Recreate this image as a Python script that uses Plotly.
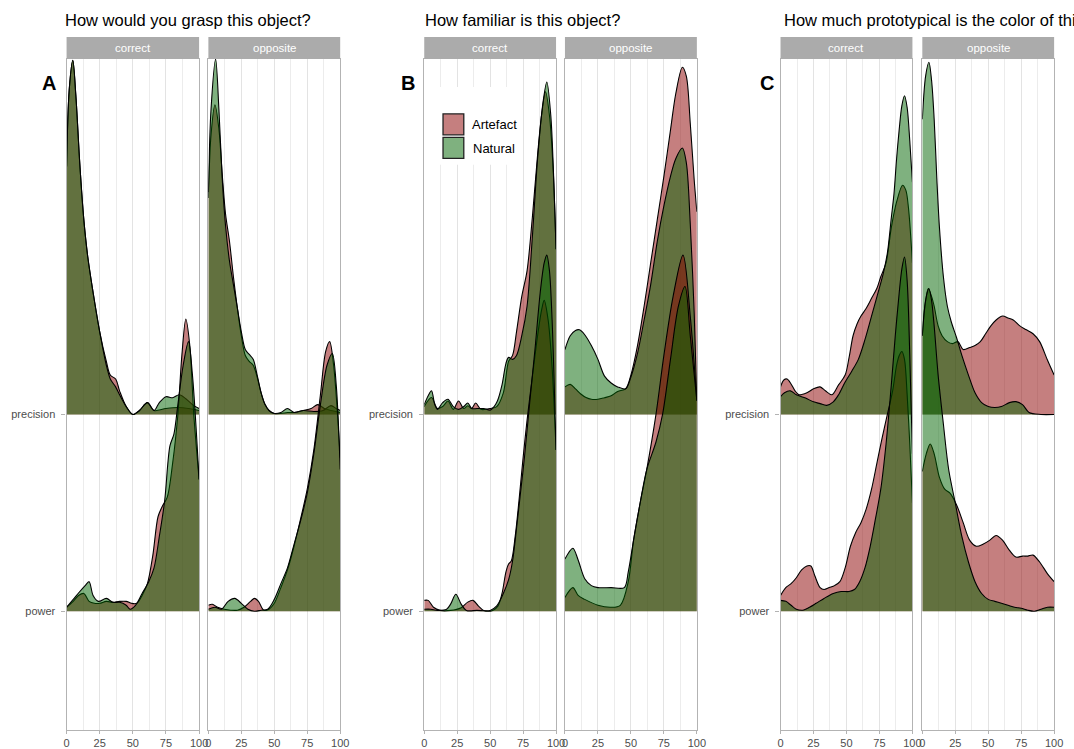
import plotly.graph_objects as go

W, H = 1074, 749

# ---------------- data: ridge heights (in row units) ----------------
# Panel A  (How would you grasp this object?)
A_COR_PREC_ART_X = [0, 2, 4.7, 7, 10, 13, 16, 20, 25, 30, 33, 37, 40, 45, 50, 55, 61, 66, 75, 85, 92, 100]
A_COR_PREC_ART_H = [1.26, 1.65, 1.80, 1.62, 1.27, 0.99, 0.80, 0.62, 0.42, 0.27, 0.20, 0.18, 0.12, 0.04, 0.0, 0.02, 0.06, 0.02, 0.03, 0.035, 0.03, 0.02]
A_COR_PREC_NAT_X = [0, 2, 4.7, 7, 10, 13, 16, 20, 25, 30, 33, 37, 40, 45, 50, 55, 61, 66, 70, 75, 80, 85, 90, 95, 100]
A_COR_PREC_NAT_H = [1.26, 1.65, 1.80, 1.62, 1.27, 0.99, 0.80, 0.62, 0.42, 0.25, 0.18, 0.14, 0.10, 0.04, 0.0, 0.02, 0.06, 0.02, 0.06, 0.09, 0.085, 0.10, 0.08, 0.05, 0.03]
A_COR_POW_ART_X = [0, 5, 9, 13, 17, 21, 25, 30, 35, 40, 45, 49, 53, 57, 61, 65, 69, 72, 76, 80, 84, 87, 90, 93, 96, 100]
A_COR_POW_ART_H = [0.02, 0.05, 0.08, 0.09, 0.05, 0.04, 0.04, 0.05, 0.045, 0.05, 0.05, 0.04, 0.04, 0.08, 0.14, 0.28, 0.48, 0.53, 0.58, 0.75, 1.0, 1.3, 1.485, 1.35, 1.0, 0.67]
A_COR_POW_NAT_X = [0, 5, 10, 14, 17, 20, 24, 30, 35, 40, 45, 48, 52, 57, 62, 66, 70, 74, 78, 81, 84, 88, 92, 95, 100]
A_COR_POW_NAT_H = [0.02, 0.06, 0.1, 0.13, 0.15, 0.08, 0.05, 0.065, 0.045, 0.045, 0.03, 0.01, 0.03, 0.09, 0.15, 0.22, 0.38, 0.56, 0.84, 0.9, 1.05, 1.25, 1.37, 1.2, 0.67]

A_OPP_PREC_ART_X = [0, 2, 5, 8, 10.5, 13, 16, 19, 22, 25, 28, 31, 34, 37, 40, 43, 46, 50, 55, 60, 65, 72, 78, 83, 88, 93, 100]
A_OPP_PREC_ART_H = [1.10, 1.42, 1.574, 1.45, 1.22, 1.02, 0.88, 0.70, 0.54, 0.40, 0.30, 0.27, 0.25, 0.19, 0.11, 0.05, 0.02, 0.005, 0.005, 0.01, 0.01, 0.02, 0.03, 0.05, 0.03, 0.02, 0.01]
A_OPP_PREC_NAT_X = [0, 2, 5.5, 8, 10.5, 13, 16, 19, 22, 25, 28, 31, 34, 37, 40, 43, 46, 50, 55, 60, 65, 72, 80, 87, 93, 97, 100]
A_OPP_PREC_NAT_H = [1.13, 1.55, 1.806, 1.55, 1.2, 0.96, 0.78, 0.66, 0.54, 0.42, 0.33, 0.305, 0.28, 0.20, 0.11, 0.05, 0.02, 0.005, 0.01, 0.03, 0.01, 0.02, 0.015, 0.02, 0.045, 0.03, 0.02]
A_OPP_POW_ART_X = [0, 3, 7, 12, 17, 22, 27, 32, 35, 38, 42, 46, 50, 55, 60, 65, 70, 75, 80, 85, 89, 92, 95, 100]
A_OPP_POW_ART_H = [0.03, 0.035, 0.02, 0.01, 0.005, 0.005, 0.02, 0.05, 0.065, 0.05, 0.005, 0.01, 0.04, 0.12, 0.21, 0.33, 0.47, 0.62, 0.82, 1.1, 1.32, 1.37, 1.25, 0.78]
A_OPP_POW_NAT_X = [0, 5, 10, 15, 20, 25, 30, 35, 40, 45, 50, 55, 60, 65, 70, 75, 80, 85, 90, 94, 97, 100]
A_OPP_POW_NAT_H = [0.01, 0.02, 0.01, 0.05, 0.065, 0.04, 0.01, 0.0, 0.005, 0.01, 0.06, 0.14, 0.22, 0.34, 0.46, 0.6, 0.8, 1.05, 1.25, 1.31, 1.15, 0.72]

# Panel B  (How familiar is this object?)
B_COR_PREC_ART_X = [0, 5.5, 10, 14, 18, 22, 26, 30, 33, 36, 39, 43, 50, 55, 60, 64, 67, 70, 74, 78, 82, 86, 89, 92, 95, 98, 100]
B_COR_PREC_ART_H = [0.04, 0.086, 0.03, 0.04, 0.068, 0.026, 0.068, 0.03, 0.044, 0.03, 0.058, 0.026, 0.03, 0.04, 0.11, 0.27, 0.30, 0.42, 0.60, 0.73, 1.0, 1.32, 1.52, 1.64, 1.52, 1.22, 0.84]
B_COR_PREC_NAT_X = [0, 3, 5.5, 8, 10, 14, 18, 22, 26, 30, 33, 36, 40, 45, 50, 53, 55.5, 59, 62, 64, 67, 70, 74, 78, 82, 86, 90, 93, 96, 98, 100]
B_COR_PREC_NAT_H = [0.05, 0.095, 0.12, 0.05, 0.026, 0.06, 0.077, 0.04, 0.026, 0.04, 0.058, 0.03, 0.03, 0.03, 0.022, 0.04, 0.068, 0.15, 0.26, 0.29, 0.28, 0.30, 0.40, 0.55, 0.90, 1.30, 1.58, 1.69, 1.52, 1.24, 0.84]
B_COR_POW_ART_X = [0, 3, 7, 12, 20, 28, 33, 37, 41, 45, 52, 56, 59, 62, 64, 66, 69, 72, 75, 78, 82, 86, 89, 91, 94, 97, 100]
B_COR_POW_ART_H = [0.055, 0.055, 0.02, 0.004, 0.004, 0.018, 0.046, 0.055, 0.027, 0.004, 0.004, 0.027, 0.09, 0.2, 0.24, 0.255, 0.38, 0.57, 0.78, 0.97, 1.19, 1.40, 1.53, 1.58, 1.48, 1.24, 0.82]
B_COR_POW_NAT_X = [0, 5, 10, 17, 20, 24, 28, 32, 40, 50, 55, 60, 64, 67, 70, 73, 76, 80, 84, 88, 91, 93, 95, 97, 100]
B_COR_POW_NAT_H = [0.01, 0.01, 0.004, 0.01, 0.036, 0.086, 0.036, 0.004, 0.004, 0.004, 0.027, 0.09, 0.16, 0.255, 0.42, 0.6, 0.78, 1.06, 1.33, 1.62, 1.77, 1.81, 1.73, 1.48, 0.82]

B_OPP_PREC_ART_X = [0, 4, 8, 12, 16, 20, 25, 30, 35, 40, 46, 50, 55, 60, 65, 70, 75, 80, 84, 89, 92, 95, 98, 100]
B_OPP_PREC_ART_H = [0.14, 0.153, 0.13, 0.104, 0.086, 0.077, 0.077, 0.085, 0.095, 0.117, 0.13, 0.2, 0.35, 0.55, 0.77, 0.99, 1.21, 1.445, 1.63, 1.765, 1.72, 1.48, 1.19, 1.03]
B_OPP_PREC_NAT_X = [0, 4, 8, 11, 15, 20, 25, 30, 35, 40, 46, 50, 55, 60, 65, 70, 75, 80, 84, 89, 92, 95, 98, 100]
B_OPP_PREC_NAT_H = [0.33, 0.40, 0.427, 0.43, 0.405, 0.35, 0.28, 0.195, 0.16, 0.14, 0.13, 0.19, 0.31, 0.48, 0.66, 0.88, 1.06, 1.21, 1.30, 1.354, 1.28, 0.97, 0.51, 0.07]
B_OPP_POW_ART_X = [0, 6, 10, 15, 25, 35, 42, 48, 52, 57, 62, 69, 75, 82, 89.5, 95, 100]
B_OPP_POW_ART_H = [0.07, 0.12, 0.08, 0.06, 0.03, 0.02, 0.03, 0.15, 0.36, 0.55, 0.72, 1.0, 1.3, 1.6, 1.81, 1.5, 1.07]
B_OPP_POW_NAT_X = [0, 6, 10, 15, 20, 25, 35, 45, 48, 52, 57, 62, 69, 74, 80, 86, 91, 95, 100]
B_OPP_POW_NAT_H = [0.265, 0.32, 0.26, 0.165, 0.13, 0.12, 0.12, 0.12, 0.2, 0.36, 0.55, 0.72, 0.86, 1.0, 1.28, 1.55, 1.65, 1.4, 1.07]

# Panel C  (How much prototypical is the color of this object?)
C_COR_PREC_ART_X = [0, 2.5, 5, 8, 11, 14, 20, 25, 30, 34, 39, 44, 49, 52, 55, 58, 61, 65, 69, 73, 76, 80, 84, 88, 92.5, 95, 97, 100]
C_COR_PREC_ART_H = [0.14, 0.175, 0.18, 0.155, 0.12, 0.10, 0.11, 0.13, 0.14, 0.12, 0.10, 0.15, 0.2, 0.29, 0.40, 0.46, 0.50, 0.54, 0.59, 0.64, 0.70, 0.77, 0.95, 1.08, 1.165, 1.14, 1.05, 0.77]
C_COR_PREC_NAT_X = [0, 3, 7.5, 12, 19, 25, 30, 35, 40, 44, 49, 54, 59, 64, 69, 74, 78, 81, 84, 86, 88, 90, 92, 94, 96, 98, 100]
C_COR_PREC_NAT_H = [0.09, 0.11, 0.12, 0.10, 0.083, 0.064, 0.055, 0.046, 0.064, 0.10, 0.165, 0.22, 0.28, 0.38, 0.50, 0.62, 0.72, 0.82, 1.0, 1.12, 1.3, 1.45, 1.57, 1.62, 1.56, 1.39, 1.18]
C_COR_POW_ART_X = [0, 4, 8, 12, 16, 20, 23, 26, 30, 33, 37, 41, 45, 49, 53, 57, 61, 65, 69, 73, 77, 81, 85, 88, 90, 92, 94, 96, 98, 100]
C_COR_POW_ART_H = [0.08, 0.12, 0.14, 0.17, 0.21, 0.23, 0.23, 0.18, 0.12, 0.11, 0.12, 0.13, 0.15, 0.22, 0.33, 0.40, 0.45, 0.52, 0.62, 0.75, 0.88, 1.0, 1.12, 1.25, 1.3, 1.32, 1.28, 1.1, 0.85, 0.55]
C_COR_POW_NAT_X = [0, 4, 8, 12, 17, 22, 27, 33, 40, 46, 52, 56, 60, 64, 68, 72, 76, 80, 84, 87, 90, 92, 94, 96, 98, 100]
C_COR_POW_NAT_H = [0.055, 0.05, 0.03, 0.01, 0.005, 0.02, 0.04, 0.065, 0.09, 0.1, 0.1, 0.11, 0.15, 0.22, 0.33, 0.47, 0.62, 0.85, 1.15, 1.4, 1.62, 1.74, 1.80, 1.68, 1.3, 0.8]

C_OPP_PREC_ART_X = [0, 2, 4.5, 7, 9, 12, 15, 19, 23, 27, 31, 36, 40, 44, 48, 52, 56, 61, 65, 69, 74, 79, 84, 89, 95, 100]
C_OPP_PREC_ART_H = [0.40, 0.55, 0.64, 0.60, 0.55, 0.45, 0.40, 0.37, 0.36, 0.37, 0.33, 0.34, 0.35, 0.37, 0.41, 0.45, 0.48, 0.50, 0.49, 0.48, 0.45, 0.43, 0.41, 0.37, 0.275, 0.2]
C_OPP_PREC_NAT_X = [0, 2.5, 5, 7, 9, 11, 13, 16, 19, 22, 26, 30, 35, 40, 45, 50, 55, 60, 66, 71, 76, 81, 90, 100]
C_OPP_PREC_NAT_H = [1.50, 1.72, 1.79, 1.70, 1.50, 1.20, 0.95, 0.70, 0.55, 0.47, 0.39, 0.30, 0.20, 0.11, 0.06, 0.04, 0.035, 0.04, 0.06, 0.065, 0.05, 0.01, 0.0, 0.0]
C_OPP_POW_ART_X = [0, 3, 6, 9, 13, 17, 21, 26, 31, 36, 41, 46, 51, 56, 61, 66, 71, 76, 80, 84, 89, 95, 100]
C_OPP_POW_ART_H = [0.71, 0.80, 0.85, 0.80, 0.68, 0.62, 0.60, 0.54, 0.45, 0.36, 0.33, 0.34, 0.36, 0.385, 0.36, 0.31, 0.275, 0.28, 0.28, 0.285, 0.25, 0.19, 0.15]
C_OPP_POW_NAT_X = [0, 2.5, 5, 7, 9, 12, 16, 20, 25, 30, 35, 40, 45, 50, 55, 60, 65, 70, 75, 80, 85, 90, 95, 100]
C_OPP_POW_NAT_H = [1.40, 1.58, 1.64, 1.58, 1.45, 1.2, 0.95, 0.72, 0.55, 0.38, 0.25, 0.15, 0.09, 0.06, 0.05, 0.04, 0.03, 0.02, 0.015, 0.005, 0.0, 0.01, 0.02, 0.02]

ROW_LABELS = ["power", "precision"]
ROW_POS = [1, 2]
X_TICKS = [0, 25, 50, 75, 100]
FACETS = ["correct", "opposite"]
GROUPS = ["Artefact", "Natural"]
TITLES = ["How would you grasp this object?", "How familiar is this object?",
          "How much prototypical is the color of this object?"]
LETTERS = ["A", "B", "C"]

ART_FILL = "rgba(139,0,0,0.5)"
NAT_FILL = "rgba(0,100,0,0.5)"
FONT = "Liberation Sans, Arial, Helvetica, sans-serif"

# facet pixel boundaries (x) : (left, right)
FACET_PX = [(64.3, 198.3), (207.7, 341.0),
            (426.0, 559.3), (568.3, 701.7),
            (786.3, 919.7), (929.7, 1063.0)]
LETTER_PX = [47, 410, 773]
TITLE_PX = [61, 425, 788]
PLOT_TOP, PLOT_BOT = 59.0, 731.0
STRIP_TOP = 37.0
Y_RANGE = [0.396, 3.807]

curves = {
    0: [(A_COR_PREC_ART_X, A_COR_PREC_ART_H, A_COR_PREC_NAT_X, A_COR_PREC_NAT_H),
        (A_COR_POW_ART_X, A_COR_POW_ART_H, A_COR_POW_NAT_X, A_COR_POW_NAT_H)],
    1: [(A_OPP_PREC_ART_X, A_OPP_PREC_ART_H, A_OPP_PREC_NAT_X, A_OPP_PREC_NAT_H),
        (A_OPP_POW_ART_X, A_OPP_POW_ART_H, A_OPP_POW_NAT_X, A_OPP_POW_NAT_H)],
    2: [(B_COR_PREC_ART_X, B_COR_PREC_ART_H, B_COR_PREC_NAT_X, B_COR_PREC_NAT_H),
        (B_COR_POW_ART_X, B_COR_POW_ART_H, B_COR_POW_NAT_X, B_COR_POW_NAT_H)],
    3: [(B_OPP_PREC_ART_X, B_OPP_PREC_ART_H, B_OPP_PREC_NAT_X, B_OPP_PREC_NAT_H),
        (B_OPP_POW_ART_X, B_OPP_POW_ART_H, B_OPP_POW_NAT_X, B_OPP_POW_NAT_H)],
    4: [(C_COR_PREC_ART_X, C_COR_PREC_ART_H, C_COR_PREC_NAT_X, C_COR_PREC_NAT_H),
        (C_COR_POW_ART_X, C_COR_POW_ART_H, C_COR_POW_NAT_X, C_COR_POW_NAT_H)],
    5: [(C_OPP_PREC_ART_X, C_OPP_PREC_ART_H, C_OPP_PREC_NAT_X, C_OPP_PREC_NAT_H),
        (C_OPP_POW_ART_X, C_OPP_POW_ART_H, C_OPP_POW_NAT_X, C_OPP_POW_NAT_H)],
}

fig = go.Figure()


def px_x(p):
    return p / W


def px_y(p):
    return 1 - p / H


for i in range(6):
    ax = "" if i == 0 else str(i + 1)
    xref, yref = "x" + ax, "y" + ax
    # precision row drawn first (behind), power row in front
    for row_idx, base in ((0, ROW_POS[1]), (1, ROW_POS[0])):
        ax_, ah_, nx_, nh_ = curves[i][row_idx]
        for gx, gh, fillc in ((ax_, ah_, ART_FILL), (nx_, nh_, NAT_FILL)):
            fig.add_trace(go.Scatter(x=[0, 100], y=[base, base], mode="lines",
                                     line=dict(width=0, color="rgba(0,0,0,0)"),
                                     hoverinfo="skip", showlegend=False,
                                     xaxis=xref, yaxis=yref))
            fig.add_trace(go.Scatter(x=gx, y=[base + v for v in gh], mode="lines",
                                     line=dict(color="black", width=1.1, shape="spline", smoothing=0.9),
                                     fill="tonexty", fillcolor=fillc,
                                     hoverinfo="skip", showlegend=False,
                                     xaxis=xref, yaxis=yref))

layout = dict(
    width=W, height=H, margin=dict(l=0, r=0, t=0, b=0),
    paper_bgcolor="white", plot_bgcolor="white",
    font=dict(family=FONT, color="#4d4d4d"),
    showlegend=False,
)

for i in range(6):
    ax = "" if i == 0 else str(i + 1)
    l, r = FACET_PX[i]
    is_left = (i % 2 == 0)
    layout["xaxis" + ax] = dict(
        domain=[px_x(l), px_x(r)], range=[0, 100], anchor="y" + ax,
        tickvals=X_TICKS, ticktext=[str(t) for t in X_TICKS],
        showgrid=True, gridcolor="#e3e3e3", gridwidth=1,
        minor=dict(tickvals=[12.5, 37.5, 62.5, 87.5], showgrid=True, gridcolor="#ececec", gridwidth=0.8),
        zeroline=False, showline=True, linecolor="#b3b3b3", linewidth=1.2, mirror=True,
        ticks="outside", ticklen=3, tickcolor="#b3b3b3", tickwidth=1,
        tickfont=dict(size=11, color="#4d4d4d", family=FONT),
        fixedrange=True,
    )
    layout["yaxis" + ax] = dict(
        domain=[1 - PLOT_BOT / H, 1 - PLOT_TOP / H], range=Y_RANGE, anchor="x" + ax,
        tickvals=ROW_POS, ticktext=ROW_LABELS, showticklabels=is_left,
        ticks="outside" if is_left else "", ticklen=4, tickcolor="#b3b3b3",
        ticklabelstandoff=4,
        showgrid=False, zeroline=False, showline=True, linecolor="#b3b3b3", linewidth=1.2, mirror=True,
        tickfont=dict(size=11, color="#4d4d4d", family=FONT),
        fixedrange=True,
    )

shapes = []
annotations = []
for i in range(6):
    l, r = FACET_PX[i]
    shapes.append(dict(type="rect", xref="paper", yref="paper",
                       x0=px_x(l), x1=px_x(r), y0=px_y(PLOT_TOP), y1=px_y(STRIP_TOP),
                       fillcolor="#ababab", line=dict(width=0), layer="above"))
    annotations.append(dict(text=FACETS[i % 2], xref="paper", yref="paper",
                            x=px_x((l + r) / 2), y=px_y((PLOT_TOP + STRIP_TOP) / 2),
                            xanchor="center", yanchor="middle", showarrow=False,
                            font=dict(size=11.5, color="white", family=FONT)))

for k in range(3):
    annotations.append(dict(text=TITLES[k], xref="paper", yref="paper",
                            x=px_x(TITLE_PX[k]), y=px_y(20), xanchor="left", yanchor="middle",
                            showarrow=False, font=dict(size=16.5, color="black", family=FONT)))
    annotations.append(dict(text="<b>" + LETTERS[k] + "</b>", xref="paper", yref="paper",
                            x=px_x(LETTER_PX[k]), y=px_y(83), xanchor="center", yanchor="middle",
                            showarrow=False, font=dict(size=20, color="black", family=FONT)))

# legend (drawn inside panel B, correct facet)
shapes.append(dict(type="rect", xref="paper", yref="paper",
                   x0=px_x(437), x1=px_x(516), y0=px_y(165), y1=px_y(87),
                   fillcolor="white", line=dict(width=0), layer="above"))
for j, (g, fc) in enumerate(zip(GROUPS, [ART_FILL, NAT_FILL])):
    top = 114 + j * 23.5
    shapes.append(dict(type="rect", xref="paper", yref="paper",
                       x0=px_x(445), x1=px_x(466), y0=px_y(top + 21), y1=px_y(top),
                       fillcolor=fc, line=dict(width=1.3, color="#222222"), layer="above"))
    annotations.append(dict(text=g, xref="paper", yref="paper",
                            x=px_x(497), y=px_y(top + 11), xanchor="center", yanchor="middle",
                            showarrow=False, font=dict(size=13, color="black", family=FONT)))

layout["shapes"] = shapes
layout["annotations"] = annotations
fig.update_layout(**layout)
fig.write_html("out.html")
